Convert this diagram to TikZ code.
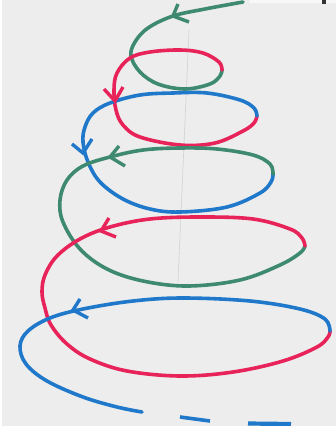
\documentclass[tikz,border=0pt]{standalone}
\usetikzlibrary{calc}
\definecolor{bgc}{HTML}{EDEDED}
\definecolor{sgreen}{HTML}{3E8A70}
\definecolor{sred}{HTML}{E8235A}
\definecolor{sblue}{HTML}{1F78C9}
\tikzset{
  coil/.style={line width=3.6pt, line cap=round, line join=round},
  barb/.style={line width=3.4pt, line cap=butt, line join=miter},
  axisline/.style={line width=0.6pt, gray!35},
}
\begin{document}
\begin{tikzpicture}[x=1pt,y=-1pt]
\useasboundingbox (0,0) rectangle (336,426);
\fill[bgc] (0,0) rectangle (336,426);
\fill[white] (0,0) rectangle (1.5,426);
\fill[white!60!bgc] (250,0) rectangle (336,3);
\fill[black!80] (322,0) rectangle (325.5,3.5);
% faint axis
\coordinate (axtop) at (189,30);
\coordinate (axbot) at (178,282);
\draw[axisline] (axtop) -- (axbot);
% green 1
\draw[coil, sgreen] plot[smooth, tension=0.6] coordinates {(243,2) (205,9) (173,16) (148,28) (135,42) (131,56) (140,72) (158,84) (185,89) (210,84) (220,76) (222,70)};
% red 1
\draw[coil, sred] plot[smooth, tension=0.6] coordinates {(222,70) (219,62) (203,53) (180,50) (150,52) (130,58) (117,73) (114,90) (116,110) (123,125) (140,137) (180,145) (215,143) (243,131) (254,123) (257,116)};
% blue 1
\draw[coil, sblue] plot[smooth, tension=0.6] coordinates {(257,116) (254,108) (240,100) (207,93) (173,93) (140,95) (110,103) (93,113) (85,127) (83,142) (88,162) (100,182) (123,199) (150,209) (180,212) (227,207) (260,193) (271,182) (273,174)};
% green 2
\draw[coil, sgreen] plot[smooth, tension=0.6] coordinates {(273,174) (270,164) (253,155) (217,149) (180,148) (143,150) (110,157) (83,166) (67,180) (60,200) (63,222) (80,249) (107,269) (143,281) (188,286) (240,280) (280,265) (300,253) (305,246)};
% red 2
\draw[coil, sred] plot[smooth, tension=0.6] coordinates {(305,246) (302,238) (290,229) (253,219) (200,217) (150,219) (110,227) (80,239) (57,256) (45,275) (42,292) (45,308) (51,325) (67,344) (90,359) (127,371) (180,376) (233,372) (283,361) (317,347) (328,337) (330,331)};
% blue 2
\draw[coil, sblue] plot[smooth, tension=0.6] coordinates {(330,331) (325,319) (300,309) (250,301) (183,298) (133,301) (83,309) (50,318) (28,331) (20,346) (26,364) (47,381) (83,397) (117,407) (142,412)};
% dashes
\coordinate (d1a) at (180,417);
\coordinate (d1b) at (210,421);
\coordinate (d2a) at (248,423.5);
\coordinate (d2b) at (291,424);
\draw[coil, sblue, line cap=butt] (d1a) -- (d1b);
\draw[coil, sblue, line cap=butt, line width=4.2pt] (d2a) -- (d2b);
% arrows
\draw[barb, sgreen] (178,4) -- (173,16) -- (189,22);
\draw[barb, sred] (104,89) -- (115,101) -- (123,87);
\draw[barb, sblue] (72,144) -- (83,153) -- (92,139);
\draw[barb, sgreen] (119,146) -- (110,157) -- (125,166);
\draw[barb, sred] (109,218) -- (101,231) -- (116,237);
\draw[barb, sblue] (80,299) -- (73,310) -- (88,318);
\end{tikzpicture}
\end{document}
